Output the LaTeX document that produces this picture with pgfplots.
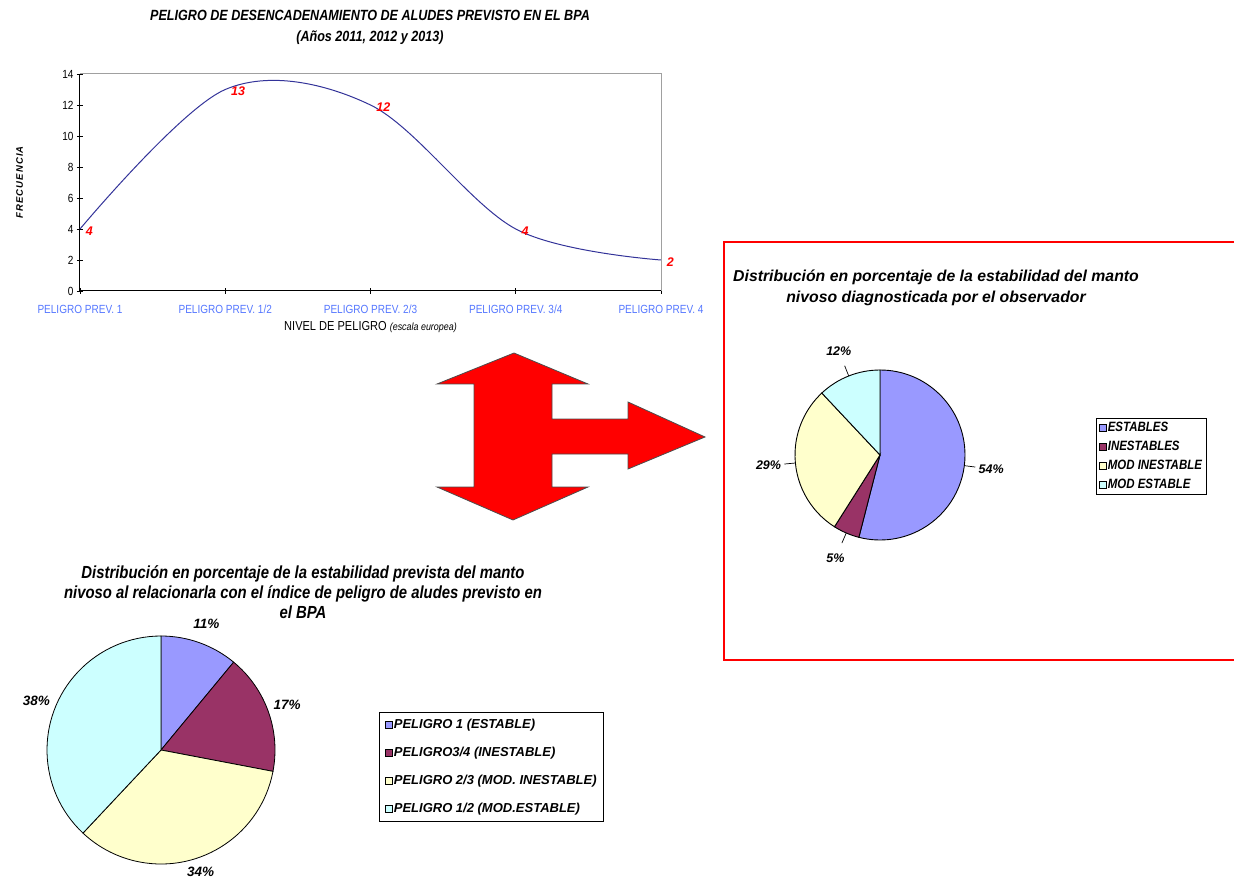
\documentclass[border=0pt]{standalone}
\usepackage{fontspec}
\setmainfont{Liberation Sans}
\newfontfamily\narrow{Liberation Sans}[FakeStretch=0.85]
\newfontfamily\spaced{Liberation Sans}[LetterSpace=12]
\usepackage{pgfplots}
\pgfplotsset{compat=1.18}

\definecolor{pieblue}{HTML}{9999FF}
\definecolor{piemaroon}{HTML}{993366}
\definecolor{pieyellow}{HTML}{FFFFCC}
\definecolor{piecyan}{HTML}{CCFFFF}
\definecolor{linenavy}{HTML}{333399}
\definecolor{ticksblue}{HTML}{5577FF}
\definecolor{framegray}{HTML}{A0A0A0}

\newcommand\fs[2]{\fontsize{#1}{#2}\selectfont}

\begin{document}
\begin{tikzpicture}
\useasboundingbox (0,0) rectangle (1234pt,-882pt);

% --- line chart: predicted danger level
\begin{axis}[
    at={(80pt,-291pt)}, anchor=south west,
    scale only axis, width=581pt, height=217pt,
    xmin=0, xmax=4, ymin=0, ymax=14,
    xtick={0,1,2,3,4},
    xticklabels={PELIGRO PREV. 1, PELIGRO PREV. 1/2, PELIGRO PREV. 2/3, PELIGRO PREV. 3/4, PELIGRO PREV. 4},
    ytick={0,2,...,14},
    axis x line*=bottom, axis y line*=left,
    axis line style={black, line width=1pt},
    tick align=center, major tick length=6pt,
    tick style={black, line width=0.8pt},
    /pgf/number format/assume math mode=true,
    xticklabel style={font=\narrow\fs{11.8}{13}, text=ticksblue, yshift=-7pt,
        text height=9pt, text depth=3pt},
    yticklabel style={font=\narrow\fs{11.8}{13}},
    xlabel={NIVEL DE PELIGRO {\itshape\fs{10.5}{12}(escala europea)}},
    xlabel style={font=\narrow\fs{13}{14}, at={(axis description cs:0.5,-0.166)}, anchor=center},
    ylabel={FRECUENCIA},
    ylabel style={font=\spaced\bfseries\itshape\fs{9.5}{11}, at={(axis description cs:-0.104,0.5)}, anchor=center},
    clip=false,
]
\addplot[linenavy, line width=1pt, smooth, tension=0.55,
    nodes near coords, point meta=y,
    nodes near coords style={anchor=west, text=red, font=\bfseries\itshape\fs{12.5}{14}, xshift=2pt, yshift=-2pt}]
    coordinates {(0,4) (1,13) (2,12) (3,4) (4,2)};
\draw[framegray, line width=1pt] (rel axis cs:0,1) -- (rel axis cs:1,1) -- (rel axis cs:1,0);
\end{axis}

% --- pie: observed stability
\begin{axis}[
    at={(880pt,-455pt)}, anchor=center,
    scale only axis, width=170pt, height=170pt,
    hide axis, xmin=-1, xmax=1, ymin=-1, ymax=1, clip=false,
    legend image code/.code={\draw[#1, line width=0.5pt] (0pt,-3.5pt) rectangle (7pt,3.5pt);},
    legend cell align=left,
    legend style={at={(1.77,0.718)}, anchor=north west, draw=black, line width=0.8pt,
        font=\narrow\bfseries\itshape\fs{13.5}{14}, row sep=6pt, inner sep=3pt,
        nodes={inner sep=1pt}},
]
\addlegendimage{fill=pieblue, draw=black}
\addlegendentry{ESTABLES}
\addlegendimage{fill=piemaroon, draw=black}
\addlegendentry{INESTABLES}
\addlegendimage{fill=pieyellow, draw=black}
\addlegendentry{MOD INESTABLE}
\addlegendimage{fill=piecyan, draw=black}
\addlegendentry{MOD ESTABLE}
\pgfplotsextra{
  \gdef\angA{90}
  \foreach \v/\col in {54/pieblue, 5/piemaroon, 29/pieyellow, 12/piecyan}{
    \pgfmathsetmacro\angB{\angA-3.6*\v}
    \pgfmathsetmacro\angM{(\angA+\angB)/2}
    \filldraw[fill=\col, draw=black, line width=0.9pt] (axis cs:0,0) -- ++(\angA:85pt)
        arc[start angle=\angA, end angle=\angB, radius=85pt] -- cycle;
    \draw[line width=0.7pt] (axis cs:0,0) ++(\angM:85pt) -- ++(\angM:11pt);
    \node[font=\bfseries\itshape\fs{12.5}{14}] at ([shift={(\angM:112pt)}]axis cs:0,0) {\v\%};
    \global\let\angA\angB
  }
}
\end{axis}

% --- pie: forecast stability
\begin{axis}[
    at={(161pt,-750pt)}, anchor=center,
    scale only axis, width=228pt, height=228pt,
    hide axis, xmin=-1, xmax=1, ymin=-1, ymax=1, clip=false,
    legend image code/.code={\draw[#1, line width=0.5pt] (0pt,-3.5pt) rectangle (7pt,3.5pt);},
    legend cell align=left,
    legend style={at={(1.456,0.667)}, anchor=north west, draw=black, line width=0.8pt,
        font=\bfseries\itshape\fs{13}{14}, row sep=15pt, inner sep=6pt,
        nodes={inner sep=1pt}},
]
\addlegendimage{fill=pieblue, draw=black}
\addlegendentry{PELIGRO 1 (ESTABLE)}
\addlegendimage{fill=piemaroon, draw=black}
\addlegendentry{PELIGRO3/4 (INESTABLE)}
\addlegendimage{fill=pieyellow, draw=black}
\addlegendentry{PELIGRO 2/3 (MOD. INESTABLE)}
\addlegendimage{fill=piecyan, draw=black}
\addlegendentry{PELIGRO 1/2 (MOD.ESTABLE)}
\pgfplotsextra{
  \gdef\angA{90}
  \foreach \v/\col in {11/pieblue, 17/piemaroon, 34/pieyellow, 38/piecyan}{
    \pgfmathsetmacro\angB{\angA-3.6*\v}
    \pgfmathsetmacro\angM{(\angA+\angB)/2}
    \pgfmathsetmacro\lr{134+6*min(0,sin(\angM))}
    \filldraw[fill=\col, draw=black, line width=0.8pt] (axis cs:0,0) -- ++(\angA:114pt)
        arc[start angle=\angA, end angle=\angB, radius=114pt] -- cycle;
    \node[font=\bfseries\itshape\fs{13.5}{15}] at ([shift={(\angM:\lr pt)}]axis cs:0,0) {\v\%};
    \global\let\angA\angB
  }
}
\end{axis}

\begin{scope}[x=1pt, y=-1pt]
% titles
\node[font=\narrow\bfseries\itshape\fs{14.8}{21}, align=center] at (370,27.5)
    {PELIGRO DE DESENCADENAMIENTO DE ALUDES PREVISTO EN EL BPA\\(Años 2011, 2012 y 2013)};
\node[font=\bfseries\itshape\fs{15.8}{21}, align=center] at (936,287.5)
    {Distribución en porcentaje de la estabilidad del manto\\nivoso diagnosticada por el observador};
\node[font=\narrow\bfseries\itshape\fs{17.5}{20}, align=center] at (303,592)
    {Distribución en porcentaje de la estabilidad prevista del manto\\nivoso al relacionarla con el índice de peligro de aludes previsto en\\el BPA};
% red frame
\draw[red, line width=2pt] (1240,242) -- (724,242) -- (724,660) -- (1240,660);
% red arrow
\filldraw[fill=red, draw=black!70, line width=0.8pt]
    (514,353) -- (588,384) -- (552,384) -- (552,419) -- (628,419) -- (628,402)
    -- (705,437) -- (628,469) -- (628,454) -- (552,454) -- (552,487) -- (588,487)
    -- (513,520) -- (437,487) -- (474,487) -- (474,384) -- (437,384) -- cycle;
\end{scope}
\end{tikzpicture}
\end{document}
